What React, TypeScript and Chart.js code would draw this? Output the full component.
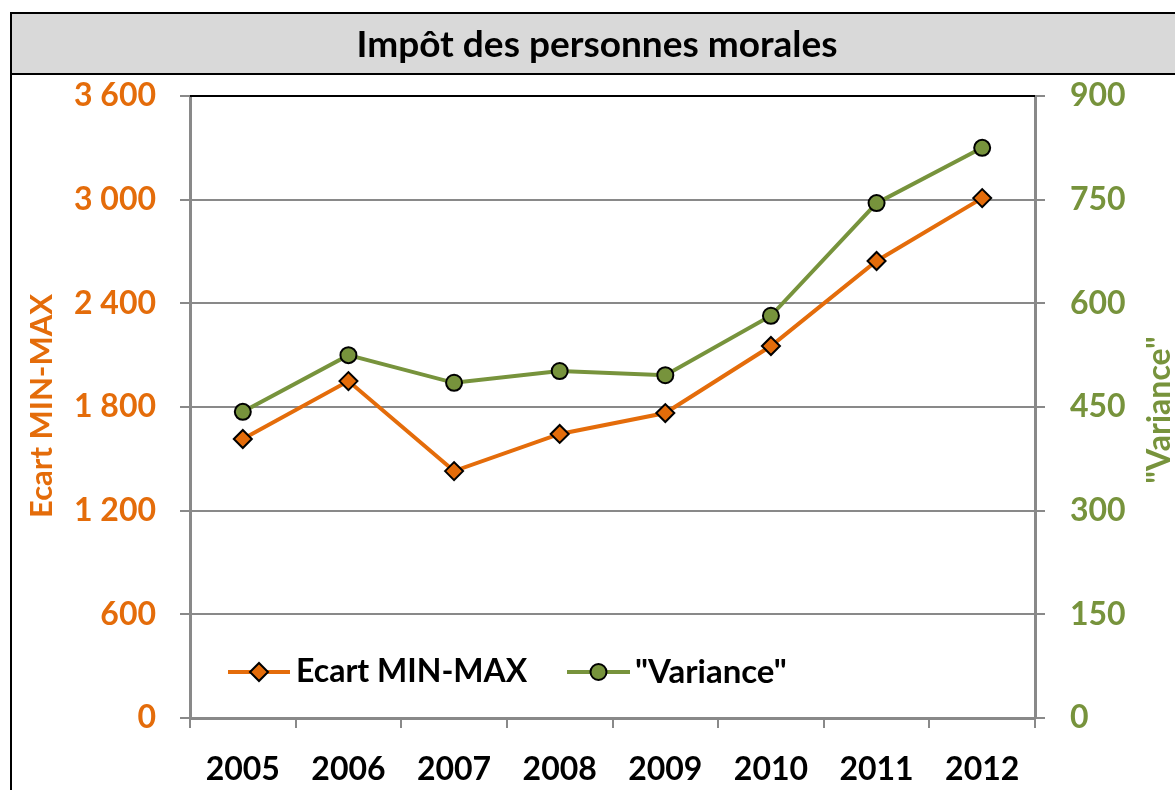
import React, { useEffect, useRef } from 'react';
import { Chart, registerables } from 'chart.js';

Chart.register(...registerables);

const years = ['2005', '2006', '2007', '2008', '2009', '2010', '2011', '2012'];
const ecartValues = [1615, 1950, 1429, 1644, 1765, 2153, 2645, 3009];
const varianceValues = [443, 525, 485, 502, 496, 582, 745, 825];

const chartTitle = 'Impôt des personnes morales';
const leftAxisTitle = 'Ecart MIN-MAX';
const rightAxisTitle = '"Variance"';
const ecartLabel = 'Ecart MIN-MAX';
const varianceLabel = '"Variance"';

const ORANGE = '#E46C0A';
const GREEN = '#77933C';
const GRID = '#898989';
const FONT = 'Lato, "Open Sans", sans-serif';
const W = 1175;
const H = 790;

const fmt = (v: number) => String(Math.round(v)).replace(/\B(?=(\d{3})+(?!\d))/g, ' ');

export default function App() {
  const ref = useRef<HTMLCanvasElement | null>(null);

  useEffect(() => {
    if (!ref.current) return;

    const decor = {
      id: 'decor',
      beforeDraw(chart: any) {
        const ctx = chart.ctx;
        ctx.save();
        ctx.fillStyle = '#ffffff';
        ctx.fillRect(0, 0, W, H);
        ctx.fillStyle = '#D9D9D9';
        ctx.fillRect(11, 13, W, 61);
        ctx.fillStyle = '#000000';
        ctx.fillRect(10, 12, W, 2);
        ctx.fillRect(10, 73, W, 2);
        ctx.fillRect(10, 12, 2, H);
        ctx.restore();
      },
      afterDraw(chart: any) {
        const ctx = chart.ctx;
        const a = chart.chartArea;
        ctx.save();
        // top border of plot
        ctx.fillStyle = '#000000';
        ctx.fillRect(a.left, a.top - 1, a.right - a.left, 2);
        // title
        ctx.fillStyle = '#000000';
        ctx.font = `bold 37px ${FONT}`;
        ctx.textAlign = 'center';
        ctx.textBaseline = 'middle';
        ctx.fillText(chartTitle, 597, 45);
        // axis titles
        ctx.save();
        ctx.translate(42, 406);
        ctx.rotate(-Math.PI / 2);
        ctx.fillStyle = ORANGE;
        ctx.font = `bold 31px ${FONT}`;
        ctx.fillText(leftAxisTitle, 0, 0);
        ctx.restore();
        ctx.save();
        ctx.translate(1160, 410);
        ctx.rotate(-Math.PI / 2);
        ctx.fillStyle = GREEN;
        ctx.font = `bold 32px ${FONT}`;
        ctx.fillText(rightAxisTitle, 0, 0);
        ctx.restore();
        // legend
        const ly = 672;
        const items = [
          { x0: 228, x1: 290, color: ORANGE, style: 'rectRot', r: 9, text: ecartLabel, tx: 296, size: 32 },
          { x0: 567, x1: 630, color: GREEN, style: 'circle', r: 8, text: varianceLabel, tx: 635, size: 33 },
        ];
        for (const it of items) {
          ctx.strokeStyle = it.color;
          ctx.lineWidth = 4;
          ctx.beginPath();
          ctx.moveTo(it.x0, ly);
          ctx.lineTo(it.x1, ly);
          ctx.stroke();
          ctx.fillStyle = it.color;
          ctx.strokeStyle = '#000000';
          ctx.lineWidth = 2;
          ctx.beginPath();
          const cx = (it.x0 + it.x1) / 2;
          if (it.style === 'circle') {
            ctx.arc(cx, ly, it.r, 0, Math.PI * 2);
          } else {
            ctx.moveTo(cx - it.r, ly);
            ctx.lineTo(cx, ly - it.r);
            ctx.lineTo(cx + it.r, ly);
            ctx.lineTo(cx, ly + it.r);
            ctx.closePath();
          }
          ctx.fill();
          ctx.stroke();
          ctx.fillStyle = '#000000';
          ctx.font = `bold ${it.size}px ${FONT}`;
          ctx.textAlign = 'left';
          ctx.textBaseline = 'middle';
          ctx.fillText(it.text, it.tx, ly);
        }
        ctx.restore();
      },
    };

    const chart = new Chart(ref.current, {
      type: 'line',
      data: {
        labels: years,
        datasets: [
          {
            label: ecartLabel,
            data: ecartValues,
            yAxisID: 'y',
            borderColor: ORANGE,
            backgroundColor: ORANGE,
            borderWidth: 4,
            pointStyle: 'rectRot',
            pointRadius: 9,
            pointBorderColor: '#000000',
            pointBackgroundColor: ORANGE,
            pointBorderWidth: 2,
            tension: 0,
          },
          {
            label: varianceLabel,
            data: varianceValues,
            yAxisID: 'y1',
            borderColor: GREEN,
            backgroundColor: GREEN,
            borderWidth: 4,
            pointStyle: 'circle',
            pointRadius: 8,
            pointBorderColor: '#000000',
            pointBackgroundColor: GREEN,
            pointBorderWidth: 2,
            tension: 0,
          },
        ],
      },
      options: {
        responsive: false,
        animation: false,
        layout: { padding: { top: 96, left: 0, right: 0, bottom: 0 } },
        plugins: {
          legend: { display: false },
          title: { display: false },
          tooltip: { enabled: false },
        },
        scales: {
          x: {
            offset: true,
            grid: {
              offset: true,
              drawOnChartArea: false,
              drawTicks: true,
              tickLength: 10,
              color: GRID,
              lineWidth: 2,
            },
            border: { display: true, color: GRID, width: 3 },
            ticks: {
              color: '#000000',
              font: { family: FONT, weight: 'bold', size: 32 },
              padding: 22,
              maxRotation: 0,
            },
            afterFit(scale: any) {
              scale.height = 72;
            },
          },
          y: {
            position: 'left',
            min: 0,
            max: 3600,
            ticks: {
              stepSize: 600,
              color: ORANGE,
              font: { family: FONT, weight: 'bold', size: 32 },
              padding: 24,
              callback: (v: any) => fmt(Number(v)),
            },
            grid: {
              color: GRID,
              lineWidth: 2,
              tickLength: 10,
              drawTicks: true,
            },
            border: { display: true, color: GRID, width: 3 },
            afterFit(scale: any) {
              scale.width = 190;
            },
          },
          y1: {
            position: 'right',
            min: 0,
            max: 900,
            ticks: {
              stepSize: 150,
              color: GREEN,
              font: { family: FONT, weight: 'bold', size: 32 },
              padding: 25,
              callback: (v: any) => fmt(Number(v)),
            },
            grid: {
              drawOnChartArea: false,
              color: GRID,
              lineWidth: 2,
              tickLength: 10,
              drawTicks: true,
            },
            border: { display: true, color: GRID, width: 3 },
            afterFit(scale: any) {
              scale.width = 140;
            },
          },
        },
      },
      plugins: [decor],
    } as any);

    return () => chart.destroy();
  }, []);

  return (
    <canvas
      ref={ref}
      width={W}
      height={H}
      style={{ position: 'absolute', left: 0, top: 0, display: 'block', width: W, height: H }}
    />
  );
}
